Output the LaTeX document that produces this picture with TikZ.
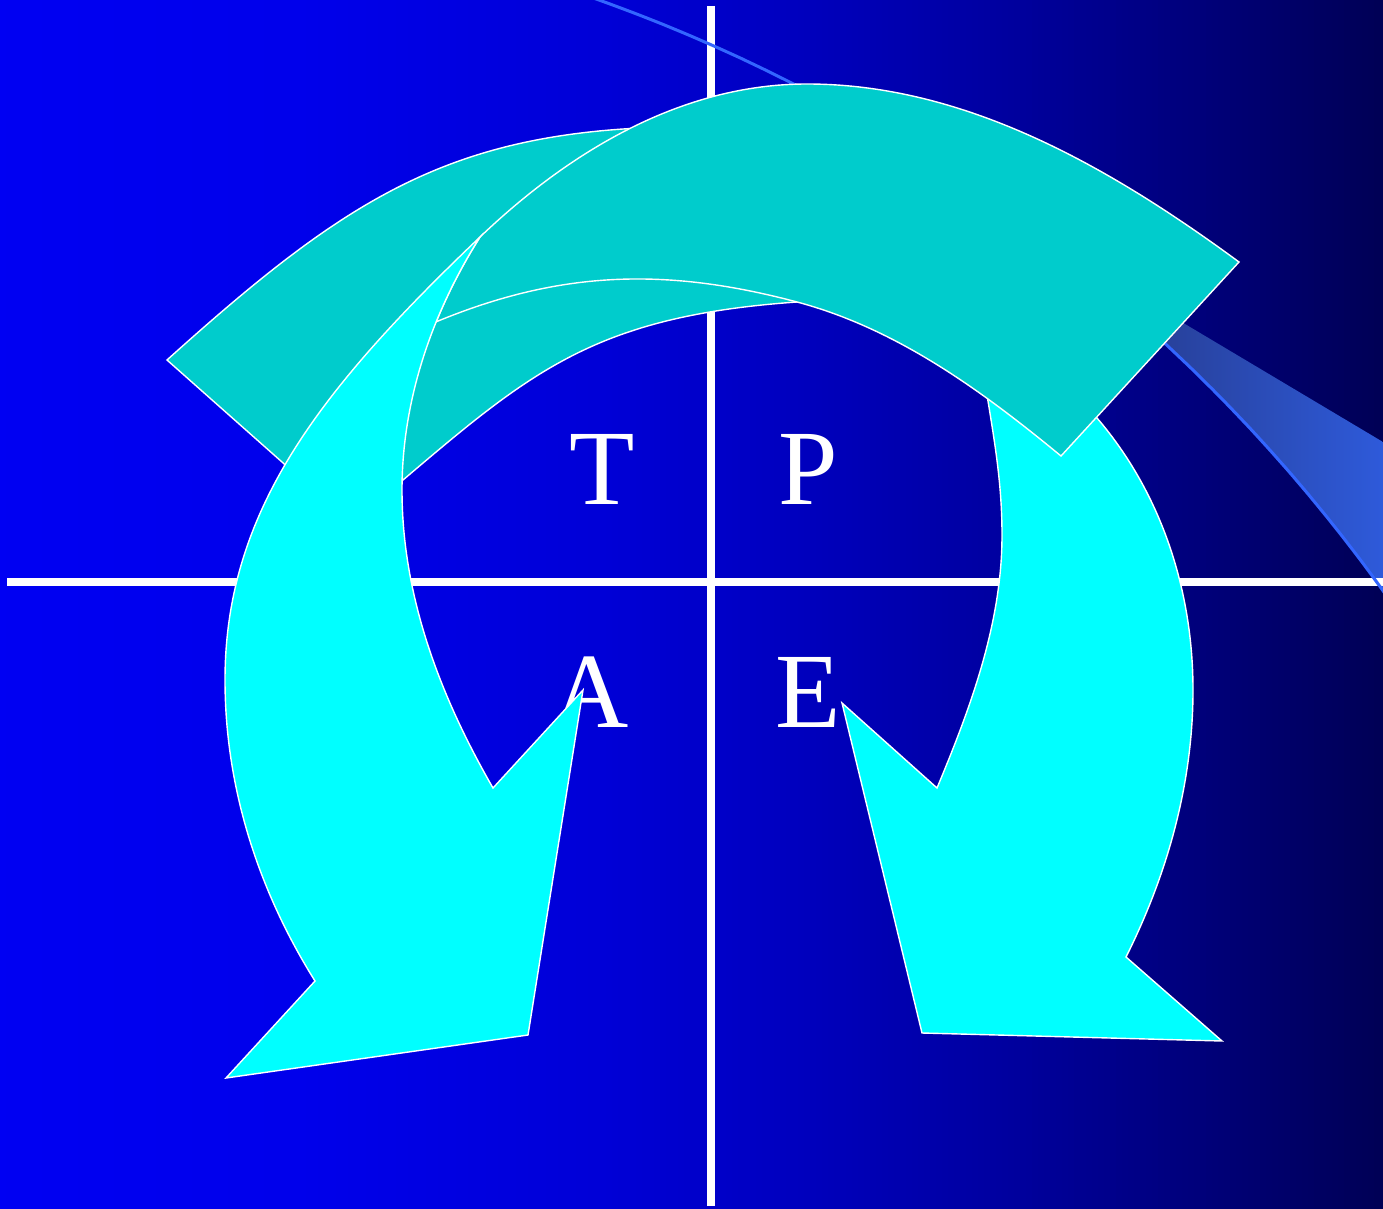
\documentclass[tikz,border=0pt]{standalone}
\usepackage{fontspec}
\setmainfont{Liberation Serif}
\definecolor{tealA}{RGB}{0,204,204}
\definecolor{cyanA}{RGB}{0,255,255}
\definecolor{swline}{RGB}{51,102,255}
\definecolor{swdark}{RGB}{36,50,118}
\definecolor{swlight}{RGB}{46,90,218}
\begin{document}
\begin{tikzpicture}[x=1pt,y=-1pt,
  bandface/.style={fill=tealA, draw=white, line width=1.4pt, line join=miter},
  legface/.style={fill=cyanA, draw=white, line width=1.4pt, line join=miter},
  crossline/.style={draw=white, line width=8pt},
  letter/.style={text=white, inner sep=0pt, anchor=base, font=\fontsize{107}{110}\selectfont}]
\useasboundingbox (0,0) rectangle (1383,1209);
\clip (0,0) rectangle (1383,1209);
% background gradient
\foreach \k in {0,...,230} {
  \pgfmathsetmacro\xx{\k*6}
  \pgfmathsetmacro\uu{\k*0.06}
  \pgfmathtruncatemacro\bb{\uu<3 ? 243-8*\uu/3 : (\uu<6 ? 235-20*(\uu-3)/3 : (\uu<8 ? 215-25*(\uu-6)/2 : (\uu<10 ? 190-30*(\uu-8)/2 : (\uu<12 ? 160-38*(\uu-10)/2 : 122-37*(\uu-12)/1.83))))}
  \definecolor{bgc}{RGB}{0,0,\bb}
  \fill[bgc] (\xx,0) rectangle ({\xx+7},1209);
}
% swoosh band
\shade[left color=swdark, right color=swlight] (1034,234) -- (1383,442) -- (1383,590)
  -- plot[domain=35.7:53.1, samples=40, variable=\t] ({45+1647*cos(\t)},{1551-1647*sin(\t)}) -- cycle;
% cross
\draw[crossline] (711,6) -- (711,1206);
\draw[crossline] (7,582) -- (1383,582);
% swoosh edge line
\draw[swline, line width=3pt] plot[domain=71:34, samples=100, variable=\t] ({45+1647*cos(\t)},{1551-1647*sin(\t)});
% letters
\node[letter] (T) at (602,504) {T};
\node[letter] (P) at (808,504) {P};
\node[letter] (A) at (590,727) {A};
\node[letter] (E) at (808,727) {E};
% arrow 1 : top band (back)
\path[bandface] (282,462) -- (167,360) .. controls (337.9,206.1) and (440,138) .. (640,128)
  .. controls (800,120) and (950,170) .. (1050,300) -- (1000,350)
  .. controls (950,320) and (880,296) .. (797,302)
  .. controls (597.5,316) and (532.5,369.8) .. (403,480) -- (330,505) -- cycle;
% arrow 1 : right leg
\path[legface] (987,395) .. controls (995,444) and (1002,485) .. (1002,535)
  .. controls (1002,623) and (970.9,706.8) .. (937,788)
  -- (842,703) -- (922,1033) -- (1222,1041) -- (1126,957)
  .. controls (1167.6,873.9) and (1193,783) .. (1193,690)
  .. controls (1193,591) and (1161.6,493.3) .. (1097,418) -- (1040,370) -- cycle;
% arrow 2 : top band (front)
\path[bandface] (1061,456) -- (1239,262) .. controls (1111,168) and (966,84) .. (807,84)
  .. controls (682,84) and (570,151) .. (480,237)
  .. controls (463,264) and (448.2,292.4) .. (436.2,321.8)
  .. controls (560.6,270.2) and (666.5,267.3) .. (797,302)
  .. controls (896.6,328.5) and (981.5,390.5) .. (1061,456) -- cycle;
% arrow 2 : left leg
\path[legface] (480,237) .. controls (321,388.8) and (225,510) .. (225,680)
  .. controls (225,787) and (258,890) .. (315,981)
  -- (226,1078) -- (528,1035) -- (583,690) -- (493,788)
  .. controls (440,696) and (402,596) .. (402,490)
  .. controls (402,400) and (432,313) .. (480,237) -- cycle;
\end{tikzpicture}
\end{document}
